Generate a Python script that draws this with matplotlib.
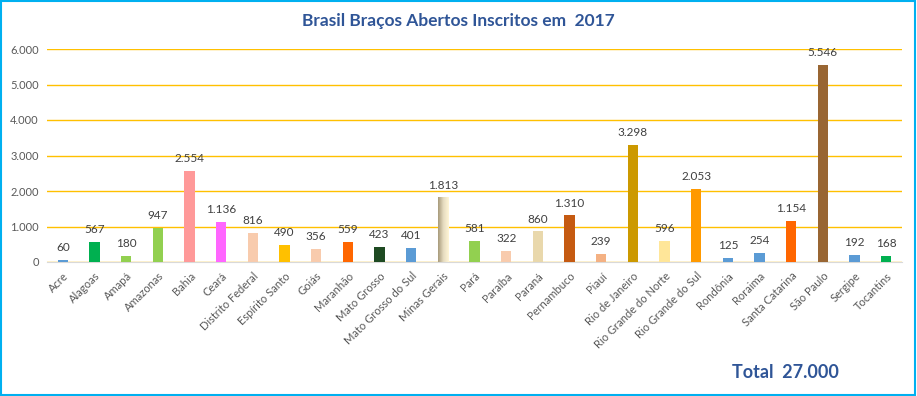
#!/usr/bin/env python3
"""Bar chart: Brasil Braços Abertos - inscritos por estado em 2017."""

import matplotlib

matplotlib.use("Agg")
import matplotlib.pyplot as plt
import numpy as np
from matplotlib.colors import LinearSegmentedColormap
from matplotlib.patches import Rectangle

STATES = [
    "Acre", "Alagoas", "Amapá", "Amazonas", "Bahia", "Ceará",
    "Distrito Federal", "Espírito Santo", "Goiás", "Maranhão",
    "Mato Grosso", "Mato Grosso do Sul", "Minas Gerais", "Pará",
    "Paraíba", "Paraná", "Pernambuco", "Piauí", "Rio de Janeiro",
    "Rio Grande do Norte", "Rio Grande do Sul", "Rondônia", "Roraima",
    "Santa Catarina", "São Paulo", "Sergipe", "Tocantins",
]
INSCRITOS = [
    60, 567, 180, 947, 2554, 1136, 816, 490, 356, 559, 423, 401, 1813,
    581, 322, 860, 1310, 239, 3298, 596, 2053, 125, 254, 1154, 5546,
    192, 168,
]
BAR_COLORS = [
    "#5B9BD5", "#00B050", "#92D050", "#92D050", "#FF9999", "#FF66FF",
    "#F8CBAD", "#FFC000", "#F8CBAD", "#FF6600", "#1E4A22", "#5B9BD5",
    "#D2C6A2", "#92D050", "#F8CBAD", "#E9D8AC", "#C55A11", "#F4B183",
    "#CC9900", "#FFE699", "#FF9900", "#5B9BD5", "#5B9BD5", "#FF6600",
    "#996633", "#5B9BD5", "#00B050",
]
Y_TICKS = [0, 1000, 2000, 3000, 4000, 5000, 6000]
TOTAL = 27000

TITLE_BLUE = "#2F5597"
FONT = ["Lato", "DejaVu Sans"]


def fmt(v):
    return f"{v:,}".replace(",", ".")


fig = plt.figure(figsize=(9.17, 3.96), dpi=100)
ax = fig.add_axes([47 / 917, 1 - 262 / 396, 855 / 917, 213 / 396])

x = np.arange(len(STATES))
bars = ax.bar(x, INSCRITOS, width=0.32, color=BAR_COLORS, zorder=3)

# Minas Gerais has a gradient fill in the original
mg = bars[STATES.index("Minas Gerais")]
grad = LinearSegmentedColormap.from_list("mg", ["#A89B7B", "#E6DCC0", "#FFF5D6"])
mg.set_facecolor("none")
ax.imshow(
    np.linspace(0, 1, 50).reshape(1, -1),
    cmap=grad,
    aspect="auto",
    extent=(mg.get_x(), mg.get_x() + mg.get_width(), 0, mg.get_height()),
    zorder=3,
)

ax.set_xlim(-0.5, len(STATES) - 0.5)
ax.set_ylim(0, 6000)
ax.set_yticks(Y_TICKS)
ax.set_yticklabels([fmt(v) for v in Y_TICKS], family=FONT, fontsize=8, color="#595959")
ax.set_xticks(x)
ax.set_xticklabels(STATES, rotation=45, ha="right", rotation_mode="anchor",
                   family=FONT, fontsize=8, color="#595959")
ax.tick_params(length=0, pad=6)

ax.grid(axis="y", color="#FFC000", linewidth=1, zorder=0)
for side in ("top", "right", "left"):
    ax.spines[side].set_visible(False)
ax.spines["bottom"].set_color("#D9D9D9")

for xi, v in zip(x, INSCRITOS):
    ax.annotate(fmt(v), (xi, v), xytext=(0, 5), textcoords="offset points",
                ha="center", va="bottom", family=FONT, fontsize=8.5,
                color="#404040")

fig.text(0.5, 1 - 21 / 396, "Brasil Braços Abertos Inscritos em  2017",
         ha="center", va="center", family=FONT, fontsize=12.5,
         fontweight="bold", color=TITLE_BLUE)
fig.text(785 / 917, 1 - 372 / 396, f"Total  {fmt(TOTAL)}",
         ha="center", va="center", family=FONT, fontsize=13,
         fontweight="bold", color=TITLE_BLUE)

fig.patches.append(Rectangle((0.001, 0.002), 0.997, 0.995, transform=fig.transFigure,
                             fill=False, edgecolor="#00B0F0", linewidth=1.5))

fig.savefig("out.png", dpi=100)
